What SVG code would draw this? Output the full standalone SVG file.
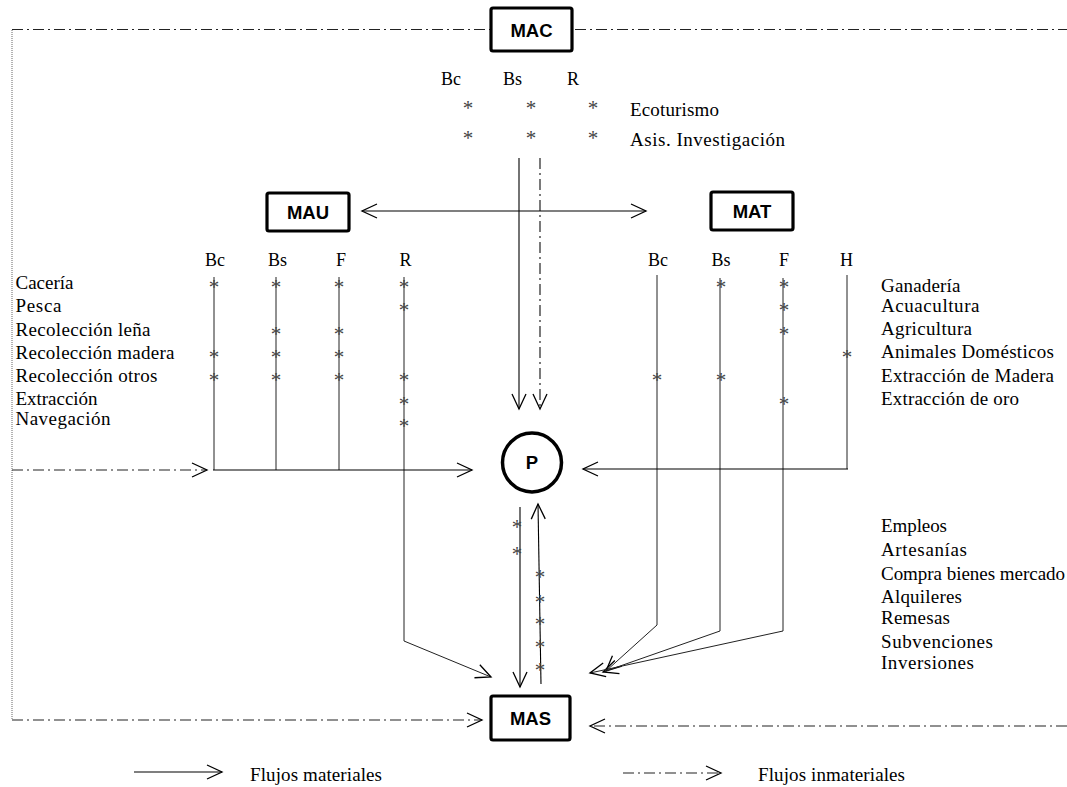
<svg xmlns="http://www.w3.org/2000/svg" width="1067" height="787" viewBox="0 0 1067 787">
<style>
.box{fill:#fff;stroke:#000;stroke-width:3.2}
.nl{font-family:"Liberation Sans",Arial,sans-serif;font-weight:bold;font-size:18.5px;text-anchor:middle;fill:#000}
.t{font-family:"Liberation Serif","Times New Roman",serif;font-size:19px;fill:#000}
.h{font-family:"Liberation Serif","Times New Roman",serif;font-size:18px;fill:#000}
.ast{font-family:"Liberation Serif","Times New Roman",serif;font-size:21px;fill:#444;text-anchor:middle}
.s{fill:none;stroke:#000;stroke-width:1.1}
.thin{fill:none;stroke:#222;stroke-width:1}
.dd{fill:none;stroke:#222;stroke-width:1.2;stroke-dasharray:11 4 2 4}
.dot{fill:none;stroke:#666;stroke-width:1;stroke-dasharray:1 1}
</style>
<defs>
<marker id="ah" viewBox="-17 -9 19 18" markerWidth="19" markerHeight="18" refX="0" refY="0" orient="auto-start-reverse" markerUnits="userSpaceOnUse">
<path d="M-15,-7 L0,0 L-15,7" fill="none" stroke="#000" stroke-width="1.3" stroke-dasharray="none"/>
</marker>
</defs>

<g id="connectors">
<line class="dd" x1="12" y1="29.5" x2="491" y2="29.5"/>
<line class="dd" x1="575" y1="29.5" x2="1067" y2="29.5"/>
<line class="dot" x1="12" y1="30" x2="12" y2="720"/>
<line class="s" x1="519" y1="158" x2="519" y2="409" marker-end="url(#ah)"/>
<line class="dd" x1="540" y1="158" x2="540" y2="409" marker-end="url(#ah)"/>
<line class="s" x1="362" y1="211" x2="646" y2="211" marker-start="url(#ah)" marker-end="url(#ah)"/>
<line class="thin" x1="214" y1="277" x2="214" y2="470"/>
<line class="thin" x1="276" y1="277" x2="276" y2="470"/>
<line class="thin" x1="339" y1="277" x2="339" y2="470"/>
<polyline class="thin" points="404,277 404,641 491,677" marker-end="url(#ah)"/>
<line class="s" x1="213" y1="470" x2="472" y2="470" marker-end="url(#ah)"/>
<line class="dd" x1="12" y1="470" x2="207" y2="470" marker-end="url(#ah)"/>
<polyline class="thin" points="657,275 657,625 606,671" marker-end="url(#ah)"/>
<polyline class="thin" points="720,278 720,631 603,672" marker-end="url(#ah)"/>
<polyline class="thin" points="783,278 783,631 590,673" marker-end="url(#ah)"/>
<line class="thin" x1="847" y1="275" x2="847" y2="469"/>
<line class="s" x1="848" y1="469" x2="583" y2="469" marker-end="url(#ah)"/>
<line class="s" x1="520" y1="507" x2="520" y2="687" marker-end="url(#ah)"/>
<line class="s" x1="541" y1="684" x2="538" y2="504" marker-end="url(#ah)"/>
<line class="dd" x1="12" y1="720" x2="482" y2="720" marker-end="url(#ah)"/>
<line class="dd" x1="1067" y1="726" x2="590" y2="726" marker-end="url(#ah)"/>
<line class="s" x1="134" y1="772" x2="222" y2="772" marker-end="url(#ah)"/>
<line class="dd" x1="623" y1="773" x2="721" y2="773" marker-end="url(#ah)"/>
</g>

<g id="MAC">
<rect class="box" x="491" y="8" width="81" height="43" rx="2"/>
<text class="nl" x="531.5" y="36.5">MAC</text>
</g>
<g id="MAU">
<rect class="box" x="267" y="193" width="82" height="38" rx="2"/>
<text class="nl" x="308" y="218.5">MAU</text>
</g>
<g id="MAT">
<rect class="box" x="711" y="192" width="82" height="38" rx="2"/>
<text class="nl" x="752" y="217.5">MAT</text>
</g>
<g id="P">
<circle cx="532" cy="462.5" r="29.5" fill="#fff" stroke="#000" stroke-width="3.5"/>
<text class="nl" x="532" y="469">P</text>
</g>
<g id="MAS">
<rect class="box" x="491" y="696" width="79" height="44" rx="2"/>
<text class="nl" x="530.5" y="725">MAS</text>
</g>

<g id="mac-labels">
<text class="h" x="441" y="85">Bc</text>
<text class="h" x="503" y="85">Bs</text>
<text class="h" x="567" y="85">R</text>
<text class="ast" x="468" y="114.5">*</text>
<text class="ast" x="531" y="114.5">*</text>
<text class="ast" x="593" y="114.5">*</text>
<text class="ast" x="468" y="144.5">*</text>
<text class="ast" x="531" y="144.5">*</text>
<text class="ast" x="593" y="144.5">*</text>
<text class="t" x="630" y="116" textLength="89" lengthAdjust="spacing">Ecoturismo</text>
<text class="t" x="630" y="146" textLength="155" lengthAdjust="spacing">Asis. Investigación</text>
</g>

<g id="mau-labels">
<text class="h" x="205" y="266">Bc</text>
<text class="h" x="268" y="266">Bs</text>
<text class="h" x="336" y="266">F</text>
<text class="h" x="399.5" y="266">R</text>
<text class="t" x="15.5" y="289" textLength="58" lengthAdjust="spacing">Cacería</text>
<text class="t" x="15.5" y="312" textLength="46" lengthAdjust="spacing">Pesca</text>
<text class="t" x="15.5" y="336" textLength="135" lengthAdjust="spacing">Recolección leña</text>
<text class="t" x="15.5" y="359" textLength="159" lengthAdjust="spacing">Recolección madera</text>
<text class="t" x="15.5" y="382" textLength="142" lengthAdjust="spacing">Recolección otros</text>
<text class="t" x="15.5" y="405" textLength="82" lengthAdjust="spacing">Extracción</text>
<text class="t" x="15.5" y="425" textLength="95" lengthAdjust="spacing">Navegación</text>
<text class="ast" x="214" y="293.5">*</text>
<text class="ast" x="214" y="363.5">*</text>
<text class="ast" x="214" y="386.5">*</text>
<text class="ast" x="276" y="293.5">*</text>
<text class="ast" x="276" y="340.5">*</text>
<text class="ast" x="276" y="363.5">*</text>
<text class="ast" x="276" y="386.5">*</text>
<text class="ast" x="339" y="293.5">*</text>
<text class="ast" x="339" y="340.5">*</text>
<text class="ast" x="339" y="363.5">*</text>
<text class="ast" x="339" y="386.5">*</text>
<text class="ast" x="404" y="293.5">*</text>
<text class="ast" x="404" y="316.5">*</text>
<text class="ast" x="404" y="386.5">*</text>
<text class="ast" x="404" y="410.5">*</text>
<text class="ast" x="404" y="432.5">*</text>
</g>

<g id="mat-labels">
<text class="h" x="648" y="266">Bc</text>
<text class="h" x="711.5" y="266">Bs</text>
<text class="h" x="779" y="266">F</text>
<text class="h" x="840" y="266">H</text>
<text class="t" x="881" y="292" textLength="79.5" lengthAdjust="spacing">Ganadería</text>
<text class="t" x="881" y="312" textLength="98.5" lengthAdjust="spacing">Acuacultura</text>
<text class="t" x="881" y="335" textLength="91" lengthAdjust="spacing">Agricultura</text>
<text class="t" x="881" y="358" textLength="173" lengthAdjust="spacing">Animales Domésticos</text>
<text class="t" x="881" y="382" textLength="173" lengthAdjust="spacing">Extracción de Madera</text>
<text class="t" x="881" y="405" textLength="138" lengthAdjust="spacing">Extracción de oro</text>
<text class="ast" x="721" y="293.5">*</text>
<text class="ast" x="784" y="293.5">*</text>
<text class="ast" x="784" y="316.5">*</text>
<text class="ast" x="784" y="340.5">*</text>
<text class="ast" x="847" y="363.5">*</text>
<text class="ast" x="657" y="386.5">*</text>
<text class="ast" x="721" y="386.5">*</text>
<text class="ast" x="784" y="410.5">*</text>
</g>

<g id="mas-labels">
<text class="ast" x="517" y="533.5">*</text>
<text class="ast" x="517" y="560.5">*</text>
<text class="ast" x="540" y="583.5">*</text>
<text class="ast" x="540" y="608.5">*</text>
<text class="ast" x="540" y="630.5">*</text>
<text class="ast" x="540" y="653.5">*</text>
<text class="ast" x="540" y="676.5">*</text>
<text class="t" x="881" y="532" textLength="66" lengthAdjust="spacing">Empleos</text>
<text class="t" x="881" y="556" textLength="86" lengthAdjust="spacing">Artesanías</text>
<text class="t" x="881" y="580" textLength="184" lengthAdjust="spacing">Compra bienes mercado</text>
<text class="t" x="881" y="603" textLength="81" lengthAdjust="spacing">Alquileres</text>
<text class="t" x="881" y="624" textLength="69" lengthAdjust="spacing">Remesas</text>
<text class="t" x="881" y="648" textLength="112" lengthAdjust="spacing">Subvenciones</text>
<text class="t" x="881" y="669" textLength="93" lengthAdjust="spacing">Inversiones</text>
</g>

<g id="legend">
<text class="t" x="250" y="781" textLength="132" lengthAdjust="spacing">Flujos materiales</text>
<text class="t" x="758" y="781" textLength="147" lengthAdjust="spacing">Flujos inmateriales</text>
</g>
</svg>
